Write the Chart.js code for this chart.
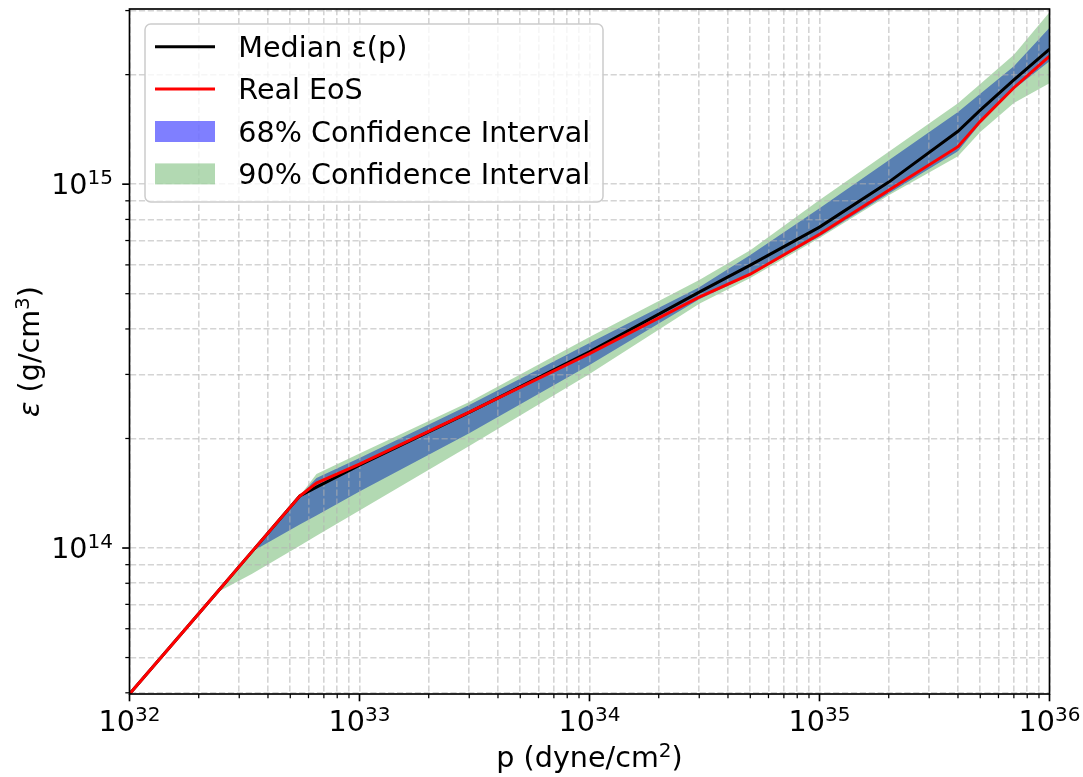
<!DOCTYPE html>
<html>
<head>
<meta charset="utf-8">
<script src="https://cdn.jsdelivr.net/npm/chart.js@4.4.0/dist/chart.umd.min.js"></script>
<style>
  html, body { margin: 0; padding: 0; background: #fff; }
  canvas { display: block; }
</style>
</head>
<body>
<canvas id="eos" width="1083" height="777"></canvas>
<script>
// pressure grid (dyne/cm^2) and energy densities (g/cm^3)
const pressure  = [1e32, 2.4e32, 3.4e32, 5.5e32, 6.5e32, 1e33, 3e33, 1e34, 3e34, 5e34, 1e35, 2e35, 4e35, 5e35, 7e35, 1e36];
const medianEps = [3.97e13, 7.55e13, 9.76e13, 1.39e14, 1.47e14, 1.69e14, 2.36e14, 3.46e14, 5.05e14, 5.99e14, 7.62e14, 1.013e15, 1.398e15, 1.597e15, 1.934e15, 2.349e15];
const realEps   = [3.97e13, 7.55e13, 9.76e13, 1.39e14, 1.509e14, 1.701e14, 2.364e14, 3.421e14, 4.893e14, 5.657e14, 7.286e14, 9.627e14, 1.268e15, 1.488e15, 1.841e15, 2.247e15];
const ci68Lo    = [3.97e13, 7.55e13, 9.76e13, 1.161e14, 1.228e14, 1.429e14, 2.068e14, 3.182e14, 4.831e14, 5.623e14, 7.186e14, 9.43e14, 1.232e15, 1.467e15, 1.824e15, 2.177e15];
const ci68Hi    = [3.97e13, 7.55e13, 9.76e13, 1.39e14, 1.557e14, 1.767e14, 2.471e14, 3.658e14, 5.212e14, 6.383e14, 8.592e14, 1.164e15, 1.579e15, 1.772e15, 2.108e15, 2.691e15];
const ci90Lo    = [3.97e13, 7.55e13, 8.484e13, 1.015e14, 1.08e14, 1.268e14, 1.908e14, 3.006e14, 4.695e14, 5.518e14, 7.109e14, 9.328e14, 1.194e15, 1.392e15, 1.671e15, 1.894e15];
const ci90Hi    = [3.97e13, 7.55e13, 9.76e13, 1.39e14, 1.597e14, 1.818e14, 2.518e14, 3.799e14, 5.449e14, 6.586e14, 9.04e14, 1.227e15, 1.669e15, 1.886e15, 2.269e15, 2.968e15];

const xRange = [1e32, 1e36];
const yRange = [3.97e13, 3.03e15];
const xDecades = [32, 33, 34, 35, 36];
const yDecades = [14, 15];

const FONT = '"DejaVu Sans", sans-serif';
const FS = 28.6;

function pts(ys) {
  return pressure.map((p, i) => ({x: p, y: ys[i]}));
}

// 1..9 x 10^n ticks inside the range (major + minor, like matplotlib)
function logTicks(min, max) {
  const out = [];
  for (let e = Math.floor(Math.log10(min)); e <= Math.ceil(Math.log10(max)); e++) {
    for (let m = 1; m <= 9; m++) {
      const v = m * Math.pow(10, e);
      if (v >= min * 0.9999 && v <= max * 1.0001) out.push(v);
    }
  }
  return out;
}

function isMajor(v) {
  const l = Math.log10(v);
  return Math.abs(l - Math.round(l)) < 1e-6;
}

function drawPow(ctx, exp, x, baseY, align) {
  ctx.font = FS + 'px ' + FONT;
  const w1 = ctx.measureText('10').width;
  ctx.font = (FS * 0.7) + 'px ' + FONT;
  const w2 = ctx.measureText(String(exp)).width;
  const x0 = align === 'center' ? x - (w1 + w2) / 2 : x - (w1 + w2);
  ctx.font = FS + 'px ' + FONT;
  ctx.fillText('10', x0, baseY);
  ctx.font = (FS * 0.7) + 'px ' + FONT;
  ctx.fillText(String(exp), x0 + w1, baseY - 10);
}

// spines, tick marks, tick labels, axis titles
const axesPlugin = {
  id: 'mplAxes',
  afterDatasetsDraw(chart) {
    const ctx = chart.ctx;
    const a = chart.chartArea;
    const xs = chart.scales.x, ys = chart.scales.y;
    ctx.save();
    ctx.strokeStyle = '#000';
    ctx.fillStyle = '#000';
    // ticks
    xs.ticks.forEach(t => {
      const px = xs.getPixelForValue(t.value);
      const maj = isMajor(t.value);
      ctx.lineWidth = maj ? 1.67 : 1.25;
      ctx.beginPath();
      ctx.moveTo(px, a.bottom);
      ctx.lineTo(px, a.bottom + (maj ? 7.3 : 4.2));
      ctx.stroke();
    });
    ys.ticks.forEach(t => {
      const py = ys.getPixelForValue(t.value);
      const maj = isMajor(t.value);
      ctx.lineWidth = maj ? 1.67 : 1.25;
      ctx.beginPath();
      ctx.moveTo(a.left, py);
      ctx.lineTo(a.left - (maj ? 7.3 : 4.2), py);
      ctx.stroke();
    });
    // spines
    ctx.lineWidth = 1.67;
    ctx.strokeRect(a.left, a.top, a.right - a.left, a.bottom - a.top);
    // tick labels
    ctx.textAlign = 'left';
    ctx.textBaseline = 'alphabetic';
    xDecades.forEach(e => {
      drawPow(ctx, e, xs.getPixelForValue(Math.pow(10, e)), a.bottom + 37, 'center');
    });
    yDecades.forEach(e => {
      drawPow(ctx, e, a.left - 16.5, ys.getPixelForValue(Math.pow(10, e)) + 10, 'right');
    });
    // x title
    ctx.font = FS + 'px ' + FONT;
    const t1 = 'p (dyne/cm', t2 = '2', t3 = ')';
    const w1 = ctx.measureText(t1).width, w3 = ctx.measureText(t3).width;
    ctx.font = (FS * 0.7) + 'px ' + FONT;
    const w2 = ctx.measureText(t2).width;
    let x0 = (a.left + a.right) / 2 - (w1 + w2 + w3) / 2;
    ctx.font = FS + 'px ' + FONT;
    ctx.fillText(t1, x0, 767);
    ctx.font = (FS * 0.7) + 'px ' + FONT;
    ctx.fillText(t2, x0 + w1, 756.5);
    ctx.font = FS + 'px ' + FONT;
    ctx.fillText(t3, x0 + w1 + w2, 767);
    // y title
    ctx.save();
    ctx.translate(39, (a.top + a.bottom) / 2);
    ctx.rotate(-Math.PI / 2);
    const parts = [
      {s: 'ε', f: 'italic ' + FS + 'px ' + FONT, dy: 0},
      {s: ' (g/cm', f: FS + 'px ' + FONT, dy: 0},
      {s: '3', f: (FS * 0.7) + 'px ' + FONT, dy: -10.5},
      {s: ')', f: FS + 'px ' + FONT, dy: 0}
    ];
    let total = 0;
    parts.forEach(p => { ctx.font = p.f; p.w = ctx.measureText(p.s).width; total += p.w; });
    let cx = -total / 2;
    parts.forEach(p => { ctx.font = p.f; ctx.fillText(p.s, cx, p.dy); cx += p.w; });
    ctx.restore();
    ctx.restore();
  }
};

const legendItems = [
  {label: 'Median ε(p)', kind: 'line', color: '#000000'},
  {label: 'Real EoS', kind: 'line', color: '#ff0000'},
  {label: '68% Confidence Interval', kind: 'patch', color: 'rgba(0,0,255,0.5)'},
  {label: '90% Confidence Interval', kind: 'patch', color: 'rgba(0,128,0,0.3)'}
];

const legendPlugin = {
  id: 'mplLegend',
  afterDraw(chart) {
    const ctx = chart.ctx;
    ctx.save();
    ctx.beginPath();
    ctx.roundRect(145, 24, 458, 178, 5.7);
    ctx.fillStyle = 'rgba(255,255,255,0.8)';
    ctx.fill();
    ctx.lineWidth = 1.5;
    ctx.strokeStyle = '#cccccc';
    ctx.stroke();
    ctx.font = FS + 'px ' + FONT;
    ctx.textAlign = 'left';
    ctx.textBaseline = 'alphabetic';
    legendItems.forEach((it, i) => {
      const cy = 46.7 + i * 42.4;
      if (it.kind === 'line') {
        ctx.strokeStyle = it.color;
        ctx.lineWidth = 3;
        ctx.beginPath();
        ctx.moveTo(155, cy);
        ctx.lineTo(215, cy);
        ctx.stroke();
      } else {
        ctx.fillStyle = it.color;
        ctx.fillRect(155, cy - 10.5, 60, 21);
      }
      ctx.fillStyle = '#000';
      ctx.fillText(it.label, 238.3, cy + 10);
    });
    ctx.restore();
  }
};

const noLine = {borderColor: 'rgba(0,0,0,0)', borderWidth: 0, pointRadius: 0, tension: 0};

new Chart(document.getElementById('eos').getContext('2d'), {
  type: 'line',
  data: {
    datasets: [
      {label: 'Real EoS', data: pts(realEps), borderColor: '#ff0000', borderWidth: 3, pointRadius: 0, fill: false, order: 0, tension: 0},
      {label: 'Median ε(p)', data: pts(medianEps), borderColor: '#000000', borderWidth: 3, pointRadius: 0, fill: false, order: 1, tension: 0},
      Object.assign({label: '90% low', data: pts(ci90Lo), fill: false, order: 2}, noLine),
      Object.assign({label: '90% Confidence Interval', data: pts(ci90Hi), fill: '-1', backgroundColor: 'rgba(0,128,0,0.3)', order: 2}, noLine),
      Object.assign({label: '68% low', data: pts(ci68Lo), fill: false, order: 3}, noLine),
      Object.assign({label: '68% Confidence Interval', data: pts(ci68Hi), fill: '-1', backgroundColor: 'rgba(0,0,255,0.5)', order: 3}, noLine)
    ]
  },
  options: {
    responsive: false,
    animation: false,
    devicePixelRatio: 1,
    clip: 0,
    layout: {padding: {left: 129.5, right: 33.5, top: 9, bottom: 83}},
    plugins: {
      legend: {display: false},
      tooltip: {enabled: false},
      filler: {drawTime: 'beforeDraw'}
    },
    scales: {
      x: {
        type: 'logarithmic',
        min: xRange[0], max: xRange[1],
        afterBuildTicks: s => { s.ticks = logTicks(xRange[0], xRange[1]).map(v => ({value: v})); },
        ticks: {display: false},
        grid: {color: 'rgba(176,176,176,0.55)', lineWidth: 1.6, drawTicks: false},
        border: {display: false, dash: [6.2, 2.7]}
      },
      y: {
        type: 'logarithmic',
        min: yRange[0], max: yRange[1],
        afterBuildTicks: s => { s.ticks = logTicks(yRange[0], yRange[1]).map(v => ({value: v})); },
        ticks: {display: false},
        grid: {color: 'rgba(176,176,176,0.55)', lineWidth: 1.6, drawTicks: false},
        border: {display: false, dash: [6.2, 2.7]}
      }
    }
  },
  plugins: [axesPlugin, legendPlugin]
});
</script>
</body>
</html>
